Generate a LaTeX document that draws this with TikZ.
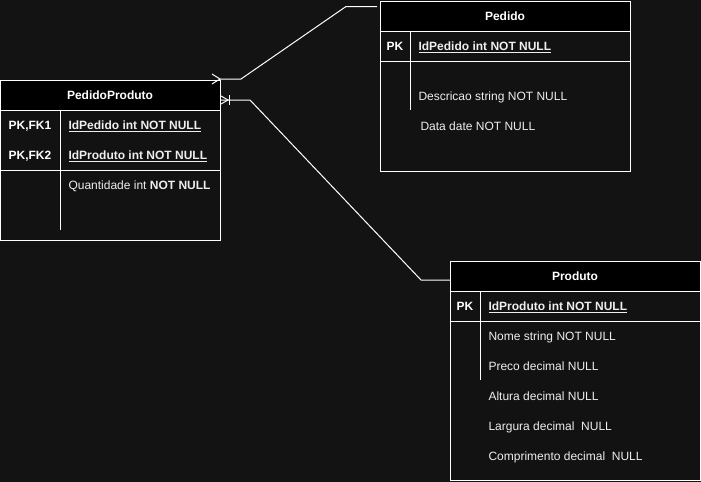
\documentclass[tikz,border=0pt]{standalone}
\usepackage{fontspec}
\setmainfont{Liberation Sans}
\usetikzlibrary{positioning}
\definecolor{bgdark}{HTML}{131313}
\definecolor{bodyfill}{HTML}{121212}
\definecolor{txtgray}{HTML}{EEEEEE}

\begin{document}
\begin{tikzpicture}[x=0.75pt, y=-0.75pt, line width=0.75pt,
  every node/.style={font=\fontsize{9pt}{11pt}\selectfont, text=txtgray},
  hdr/.style={draw=white, fill=black, minimum height=22.5pt, inner sep=0pt, text=white, font=\fontsize{9pt}{11pt}\selectfont\bfseries},
  body/.style={draw=white, fill=bodyfill, inner sep=0pt},
  fld/.style={anchor=west, inner sep=0pt, text height=6.45pt, text depth=0pt},
  key/.style={inner sep=0pt, text height=6.45pt, text depth=0pt, text=white, font=\fontsize{9pt}{11pt}\selectfont\bfseries},
  conn/.style={draw=white, line width=0.75pt}]
\fill[bgdark] (0,0) rectangle (701,482);
\useasboundingbox (0,0) rectangle (701,482);
% tabela PedidoProduto
\node[body, minimum width=165pt, minimum height=97.5pt] (ppb) at (110,175) {};
\node[hdr, minimum width=165pt] (pph) at (110,95) {PedidoProduto};
\draw[white] (0,170) -- (220,170);
\draw[white] (60,110) -- (60,230);
\node[key] (pk1) at (30,125) {PK,FK1};
\node[key] (pk2) at (30,155) {PK,FK2};
\node[fld] (ppf1) at (68,125) {\underline{\textbf{IdPedido int NOT NULL}}};
\node[fld] (ppf2) at (68,155) {\underline{\textbf{IdProduto int NOT NULL}}};
\node[fld] (ppf3) at (68,185) {Quantidade int \textbf{NOT NULL}};
% tabela Pedido
\node[body, minimum width=187.5pt, minimum height=105pt] (pedb) at (505,101) {};
\node[hdr, minimum width=187.5pt] (pedh) at (505,16) {Pedido};
\draw[white] (380,61) -- (630,61);
\draw[white] (410,31) -- (410,110);
\node[key] (pk3) at (395,46) {PK};
\node[fld] (pedf1) at (418,46) {\underline{\textbf{IdPedido int NOT NULL}}};
\node[fld] (pedf2) at (418,96) {Descricao string NOT NULL};
\node[fld] (pedf3) at (420,126) {Data date NOT NULL};
% tabela Produto
\node[body, minimum width=187.5pt, minimum height=141.75pt] (prodb) at (575,385.5) {};
\node[hdr, minimum width=187.5pt] (prodh) at (575,276) {Produto};
\draw[white] (450,321) -- (700,321);
\draw[white] (480,291) -- (480,380);
\node[key] (pk4) at (465,306) {PK};
\node[fld] (prodf1) at (488,306) {\underline{\textbf{IdProduto int NOT NULL}}};
\node[fld] (prodf2) at (488,336) {Nome string NOT NULL};
\node[fld] (prodf3) at (488,366) {Preco decimal NULL};
\node[fld] (prodf4) at (488,396) {Altura decimal NULL};
\node[fld] (prodf5) at (488,426) {Largura decimal\ \ NULL};
\node[fld] (prodf6) at (488,456) {Comprimento decimal\ \ NULL};
% ligacoes
\coordinate (ppTop) at (220,79);
\coordinate (ppMid) at (220,100);
\coordinate (pedIn) at (377,6.5);
\coordinate (prodIn) at (450,280);
\draw[conn] (ppTop) -- (241,79) -- (346,6.5) -- (pedIn);
\draw[conn] (ppMid) -- (250,100) -- (421,280) -- (prodIn);
% marcadores
\draw[conn] (212,74) -- (ppTop) -- (212,84);
\draw[conn] (221,96) -- (228,100) -- (221,104);
\draw[conn] (229,95) -- (229,105);
\end{tikzpicture}
\end{document}
